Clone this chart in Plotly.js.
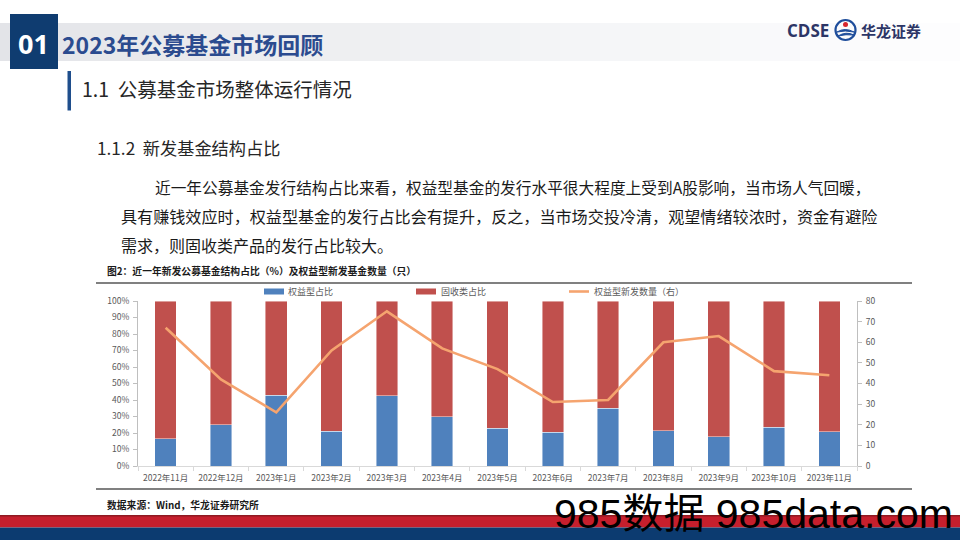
<!DOCTYPE html>
<html>
<head>
<meta charset="utf-8">
<script src="https://cdn.plot.ly/plotly-3.0.1.min.js"></script>
<style>
  html, body { margin: 0; padding: 0; background: #ffffff; }
  #chart { width: 960px; height: 540px; }
</style>
</head>
<body>
<div id="chart"></div>
<script>
// ---------- data ----------
const categories = ['2022年11月','2022年12月','2023年1月','2023年2月','2023年3月','2023年4月','2023年5月','2023年6月','2023年7月','2023年8月','2023年9月','2023年10月','2023年11月'];
const equityShare = [16.5, 25.0, 43.0, 21.0, 42.5, 30.0, 23.0, 20.6, 35.0, 21.5, 17.8, 23.5, 20.7];
const fixedIncomeShare = [83.5, 75.0, 57.0, 79.0, 57.5, 70.0, 77.0, 79.4, 65.0, 78.5, 82.2, 76.5, 79.3];
const equityNewCount = [67, 42, 26, 56, 75, 57, 47, 31, 32, 60, 63, 46, 44];
const seriesNames = ['权益型占比', '固收类占比', '权益型新发数量（右）'];
const leftTicks = [0,10,20,30,40,50,60,70,80,90,100];
const rightTicks = [0,10,20,30,40,50,60,70,80];

// ---------- geometry helpers (pixel -> paper) ----------
const W = 960, H = 540;
const L = 138, R = 857, T = 301, B = 466;
const px = x => (x - L) / (R - L);
const py = y => (B - y) / (B - T);

const FONT = "'Noto Sans CJK SC', 'Noto Sans', sans-serif";
const BLUE = '#4f81bd', RED = '#c0504d', ORANGE = '#f5a46f';
const GRAY = '#595959';

// ---------- traces ----------
const traces = [
  { type: 'bar', name: seriesNames[0], x: categories, y: equityShare,
    marker: { color: BLUE, line: { color: 'rgba(255,255,255,0.55)', width: 0.8 } },
    hoverinfo: 'skip', showlegend: false },
  { type: 'bar', name: seriesNames[1], x: categories, y: fixedIncomeShare,
    marker: { color: RED, line: { color: 'rgba(255,255,255,0.55)', width: 0.8 } },
    hoverinfo: 'skip', showlegend: false },
  { type: 'scatter', mode: 'lines', name: seriesNames[2], x: categories, y: equityNewCount,
    yaxis: 'y2', line: { color: ORANGE, width: 2.6 }, hoverinfo: 'skip', showlegend: false }
];

// ---------- decorations ----------
const shapes = [];
const annotations = [];

function rectPx(x0, y0, x1, y1, color, layer) {
  shapes.push({ type: 'rect', xref: 'paper', yref: 'paper',
    x0: px(x0), x1: px(x1), y0: py(y1), y1: py(y0),
    fillcolor: color, line: { width: 0 }, layer: layer || 'above' });
}
function linePx(x0, y0, x1, y1, color, width) {
  shapes.push({ type: 'line', xref: 'paper', yref: 'paper',
    x0: px(x0), x1: px(x1), y0: py(y0), y1: py(y1),
    line: { color: color, width: width } });
}
function textPx(x, y, text, size, color, opts) {
  annotations.push(Object.assign({ xref: 'paper', yref: 'paper', x: px(x), y: py(y),
    text: text, showarrow: false, xanchor: 'left', yanchor: 'middle',
    font: { family: FONT, size: size, color: color } }, opts || {}));
}

// header gradient band
const bandSteps = 24;
for (let i = 0; i < bandSteps; i++) {
  const t = i / (bandSteps - 1);
  const c0 = [227, 228, 232], c1 = [253, 253, 254];
  const c = c0.map((v, k) => Math.round(v + (c1[k] - v) * Math.pow(t, 0.8)));
  rectPx(i * 40, 23, (i + 1) * 40 + 1, 61, `rgb(${c[0]},${c[1]},${c[2]})`, 'below');
}
// dark blue square with "01"
rectPx(10, 14, 58, 69, '#0f3c70', 'below');
textPx(34, 43, '<b>01</b>', 27, '#ffffff', { xanchor: 'center', font: { family: "'Noto Sans', 'Open Sans', sans-serif", size: 27, color: '#ffffff' } });
textPx(60, 44, '<b>2023年公募基金市场回顾</b>', 23, '#2b4b8f');

// logo
textPx(785, 30, '<b>CDSE</b>', 17, '#2c3566', { font: { family: "'Open Sans', 'Noto Sans', sans-serif", size: 17, color: '#2c3566' } });
shapes.push({ type: 'circle', xref: 'paper', yref: 'paper', x0: px(835.5), x1: px(855.5), y0: py(40), y1: py(20),
  line: { color: '#1e4d9b', width: 2.2 }, fillcolor: 'rgba(0,0,0,0)' });
shapes.push({ type: 'path', xref: 'paper', yref: 'paper',
  path: `M ${px(837)} ${py(32)} Q ${px(845)} ${py(27)} ${px(854)} ${py(32)} Q ${px(845)} ${py(30)} ${px(837)} ${py(32)} Z`,
  fillcolor: '#1e4d9b', line: { color: '#1e4d9b', width: 1 } });
shapes.push({ type: 'path', xref: 'paper', yref: 'paper',
  path: `M ${px(838)} ${py(36)} Q ${px(846)} ${py(31)} ${px(854)} ${py(35)} Q ${px(846)} ${py(34)} ${px(838)} ${py(36)} Z`,
  fillcolor: '#1e4d9b', line: { color: '#1e4d9b', width: 1 } });
shapes.push({ type: 'circle', xref: 'paper', yref: 'paper', x0: px(843), x1: px(848), y0: py(27), y1: py(22),
  line: { width: 0 }, fillcolor: '#d7262e' });
textPx(859, 30, '<b>华龙证券</b>', 15, '#2c3566');

// section heading
rectPx(67.5, 71, 71, 110.5, '#1f4e8c');
textPx(80, 88.5, '1.1  公募基金市场整体运行情况', 19.5, '#262626');
textPx(95, 147, '1.1.2  新发基金结构占比', 17.2, '#262626');

// body paragraph
textPx(153, 187, '近一年公募基金发行结构占比来看，权益型基金的发行水平很大程度上受到A股影响，当市场人气回暖，', 15.7, '#1a1a1a');
textPx(119, 216, '具有赚钱效应时，权益型基金的发行占比会有提升，反之，当市场交投冷清，观望情绪较浓时，资金有避险', 16.1, '#1a1a1a');
textPx(119, 245, '需求，则固收类产品的发行占比较大。', 16, '#1a1a1a');

// figure caption & rules
textPx(105, 271, '<b>图2：近一年新发公募基金结构占比（%）及权益型新发基金数量（只）</b>', 9.8, '#1a1a1a');
linePx(96, 283, 912, 283, '#808080', 2);
linePx(96, 489, 912, 489, '#808080', 2);
textPx(105, 505, '<b>数据来源：Wind，华龙证券研究所</b>', 9.8, '#1a1a1a');

// legend (manual)
rectPx(264, 288.5, 284, 294.5, BLUE);
textPx(286, 291.5, seriesNames[0], 9, GRAY);
rectPx(416, 288.5, 436, 294.5, RED);
textPx(439, 291.5, seriesNames[1], 9, GRAY);
linePx(569, 291.5, 589, 291.5, ORANGE, 2.6);
textPx(592, 291.5, seriesNames[2], 9, GRAY);

// bottom bands
rectPx(0, 515, 960, 527.5, '#c61f2d', 'below');
rectPx(0, 515, 960, 516.5, '#8f1a22', 'below');
rectPx(0, 527.5, 960, 540, '#0c3b70', 'below');

// watermark
textPx(552, 514, '985数据 985data.com', 41, '#000000', { font: { family: "'Liberation Sans', 'Noto Sans CJK SC', sans-serif", size: 41, color: '#000000' } });

// ---------- layout ----------
const axisCommon = {
  showgrid: false, zeroline: false, showline: true, linecolor: '#bfbfbf', linewidth: 1,
  ticks: 'outside', ticklen: 4, tickcolor: '#bfbfbf', tickwidth: 1,
  tickfont: { family: FONT, size: 8.5, color: GRAY }, fixedrange: true
};

const layout = {
  width: W, height: H, autosize: false,
  margin: { l: L, r: W - R, t: T, b: H - B, pad: 0 },
  paper_bgcolor: '#ffffff', plot_bgcolor: 'rgba(0,0,0,0)',
  font: { family: FONT, color: GRAY },
  barmode: 'stack', bargap: 0.61,
  showlegend: false,
  xaxis: Object.assign({}, axisCommon, {
    type: 'category', tickson: 'boundaries', linecolor: '#d9d9d9', tickcolor: '#d9d9d9',
    tickangle: 0, ticklabelstandoff: 4
  }),
  yaxis: Object.assign({}, axisCommon, {
    range: [0, 100], tickvals: leftTicks, ticktext: leftTicks.map(v => v + '%'), ticklabelstandoff: 2
  }),
  yaxis2: Object.assign({}, axisCommon, {
    overlaying: 'y', side: 'right', range: [0, 80], tickvals: rightTicks, ticklabelstandoff: 2
  }),
  shapes: shapes,
  annotations: annotations
};

Plotly.newPlot('chart', traces, layout, { displayModeBar: false, staticPlot: true });
</script>
</body>
</html>
